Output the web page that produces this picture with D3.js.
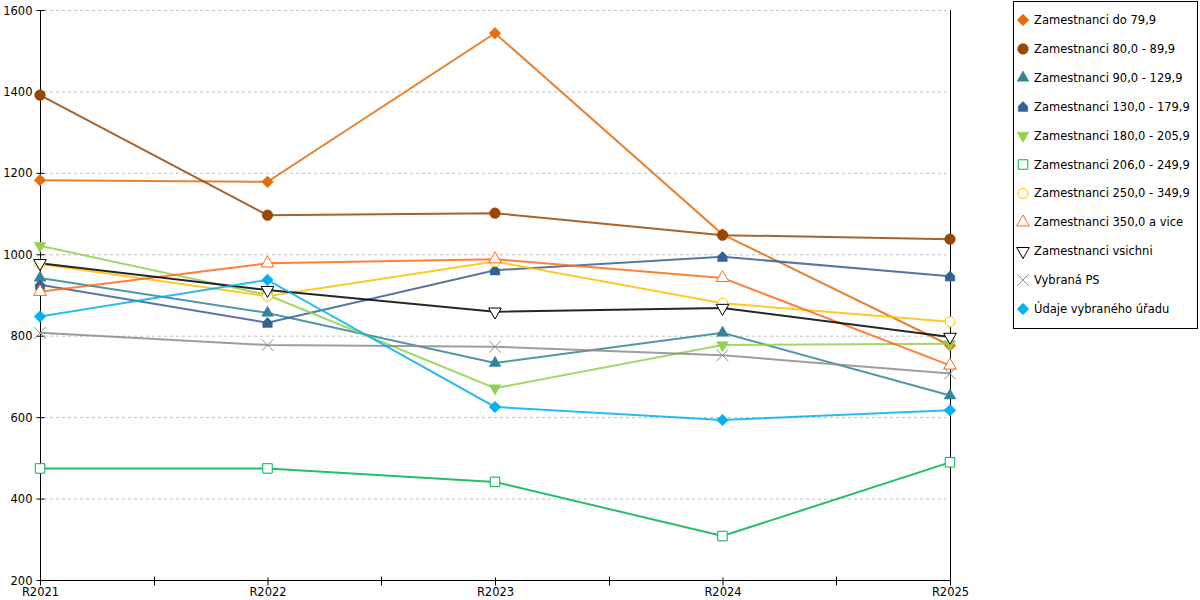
<!DOCTYPE html>
<html>
<head>
<meta charset="utf-8">
<script src="https://cdn.jsdelivr.net/npm/d3@7"></script>
<style>
  body { margin: 0; background: #fff; }
  text { font-family: "DejaVu Sans", Verdana, sans-serif; font-size: 11.5px; fill: #000; }
</style>
</head>
<body>
<div id="chart"></div>
<script>
// data
var years = ["R2021", "R2022", "R2023", "R2024", "R2025"];
var yTicks = [200, 400, 600, 800, 1000, 1200, 1400, 1600];

var do79 = [1182, 1178, 1543, 1049, 776];
var z80_89 = [1391, 1096, 1101, 1047, 1037];
var z90_129 = [942, 856, 733, 807, 653];
var z130_179 = [925, 832, 961, 994, 946];
var z180_205 = [1021, 900, 671, 777, 780];
var z206_249 = [474, 474, 441, 308, 489];
var z250_349 = [976, 897, 982, 880, 834];
var z350 = [908, 978, 988, 942, 727];
var vsichni = [978, 912, 859, 868, 797];
var vybranaPS = [807, 777, 773, 752, 707];
var urad = [847, 937, 625, 593, 617];

// house marker (triangle on a square)
var house = {
  draw: function(ctx, size) {
    var s = Math.sqrt(size) / 2;
    ctx.moveTo(0, -s * 1.1);
    ctx.lineTo(s, -s * 0.1);
    ctx.lineTo(s, s);
    ctx.lineTo(-s, s);
    ctx.lineTo(-s, -s * 0.1);
    ctx.closePath();
  }
};

var series = [
  {name: "Zamestnanci do 79,9", values: do79, color: "#e46c0a", sym: d3.symbolSquare, size: 68, fill: true, rot: 45},
  {name: "Zamestnanci 80,0 - 89,9", values: z80_89, color: "#974806", sym: d3.symbolCircle, size: 90, fill: true},
  {name: "Zamestnanci 90,0 - 129,9", values: z90_129, color: "#31849b", sym: d3.symbolTriangle, size: 60, fill: true},
  {name: "Zamestnanci 130,0 - 179,9", values: z130_179, color: "#366092", sym: house, size: 90, fill: true},
  {name: "Zamestnanci 180,0 - 205,9", values: z180_205, color: "#92d050", sym: d3.symbolTriangle, size: 60, fill: true, rot: 180},
  {name: "Zamestnanci 206,0 - 249,9", values: z206_249, color: "#00b050", sym: d3.symbolSquare, size: 90, fill: false},
  {name: "Zamestnanci 250,0 - 349,9", values: z250_349, color: "#ffc000", sym: d3.symbolCircle, size: 80, fill: false},
  {name: "Zamestnanci 350,0 a vice", values: z350, color: "#ff6a10", sym: d3.symbolTriangle, size: 70, fill: false},
  {name: "Zamestnanci vsichni", values: vsichni, color: "#000000", sym: d3.symbolTriangle, size: 70, fill: false, rot: 180},
  {name: "Vybraná PS", values: vybranaPS, color: "#8c8c8c", sym: d3.symbolTimes, size: 90, fill: false},
  {name: "Údaje vybraného úřadu", values: urad, color: "#00b0f0", sym: d3.symbolSquare, size: 68, fill: true, rot: 45}
];

var W = 1200, H = 600;
var margin = {top: 10, right: 250, bottom: 20, left: 40};

var svg = d3.select("#chart").append("svg")
  .attr("width", W).attr("height", H);

var x = d3.scalePoint().domain(years).range([margin.left, W - margin.right]);
var y = d3.scaleLinear().domain([200, 1600]).range([H - margin.bottom, margin.top]);

// grid
svg.append("g").selectAll("line")
  .data(yTicks.slice(1))
  .enter().append("line")
    .attr("x1", margin.left + 4).attr("x2", W - margin.right - 4)
    .attr("y1", d => y(d) + 0.5).attr("y2", d => y(d) + 0.5)
    .attr("stroke", "#bfbfbf").attr("stroke-dasharray", "3,3");

// y axis
var yAxis = svg.append("g")
  .attr("transform", "translate(" + (margin.left + 0.5) + ",0)")
  .call(d3.axisLeft(y).tickValues(yTicks).tickFormat(d3.format("d")).tickSize(4).tickPadding(4));
yAxis.select(".domain").remove();
yAxis.append("line").attr("y1", margin.top).attr("y2", H - margin.bottom + 5).attr("stroke", "#000");
yAxis.selectAll(".tick line").attr("x1", -4).attr("x2", 4);
yAxis.selectAll("text").attr("dy", "0.35em").style("font-family", "DejaVu Sans").style("font-size", "11.5px");

// right vertical line
svg.append("line")
  .attr("x1", W - margin.right + 0.5).attr("x2", W - margin.right + 0.5)
  .attr("y1", margin.top).attr("y2", H - margin.bottom + 5)
  .attr("stroke", "#000");

// x axis
var xAxis = svg.append("g")
  .attr("transform", "translate(0," + (H - margin.bottom + 0.5) + ")")
  .call(d3.axisBottom(x).tickSize(5).tickPadding(2));
xAxis.select(".domain").remove();
xAxis.append("line").attr("x1", margin.left).attr("x2", W - margin.right).attr("stroke", "#000");
xAxis.selectAll(".tick line").attr("y1", -3).attr("y2", 5);
xAxis.selectAll("text").style("font-family", "DejaVu Sans").style("font-size", "11.5px");

// ticks between categories
var step = x.step();
xAxis.selectAll(".mid")
  .data(years.slice(1))
  .enter().append("line")
    .attr("x1", d => Math.round(x(d) - step / 2) + 0.5)
    .attr("x2", d => Math.round(x(d) - step / 2) + 0.5)
    .attr("y1", -4).attr("y2", 5)
    .attr("stroke", "#000");

// lines
var line = d3.line()
  .x((d, i) => x(years[i]))
  .y(d => y(d));

series.forEach(s => {
  svg.append("path")
    .datum(s.values)
    .attr("fill", "none")
    .attr("stroke", s.color)
    .attr("stroke-width", 2)
    .attr("stroke-opacity", 0.85)
    .attr("d", line);
});

// markers
function marker(sel, s) {
  sel.attr("d", d3.symbol().type(s.sym).size(s.size))
    .attr("fill", s.fill ? s.color : (s.sym === d3.symbolTimes ? "none" : "#fff"))
    .attr("stroke", s.color)
    .attr("stroke-width", s.fill ? 0.5 : 1);
}

series.forEach(s => {
  svg.append("g").selectAll("path")
    .data(s.values)
    .enter().append("path")
      .attr("transform", (d, i) => "translate(" + x(years[i]) + "," + y(d) + ")" + (s.rot ? " rotate(" + s.rot + ")" : ""))
      .call(marker, s);
});

// legend
var leg = svg.append("g");
leg.append("rect")
  .attr("x", 1013.5).attr("y", 1.5)
  .attr("width", 184).attr("height", 327)
  .attr("fill", "#fff").attr("stroke", "#000");

var item = leg.selectAll(".item")
  .data(series)
  .enter().append("g")
    .attr("transform", (d, i) => "translate(1023," + (20 + i * 28.9) + ")");

item.append("path")
  .each(function(s) {
    d3.select(this)
      .attr("transform", s.rot ? "rotate(" + s.rot + ")" : null)
      .call(marker, s);
  });

item.append("text")
  .attr("x", 11)
  .attr("dy", "0.35em")
  .style("font-size", "11.5px")
  .text(d => d.name);
</script>
</body>
</html>
